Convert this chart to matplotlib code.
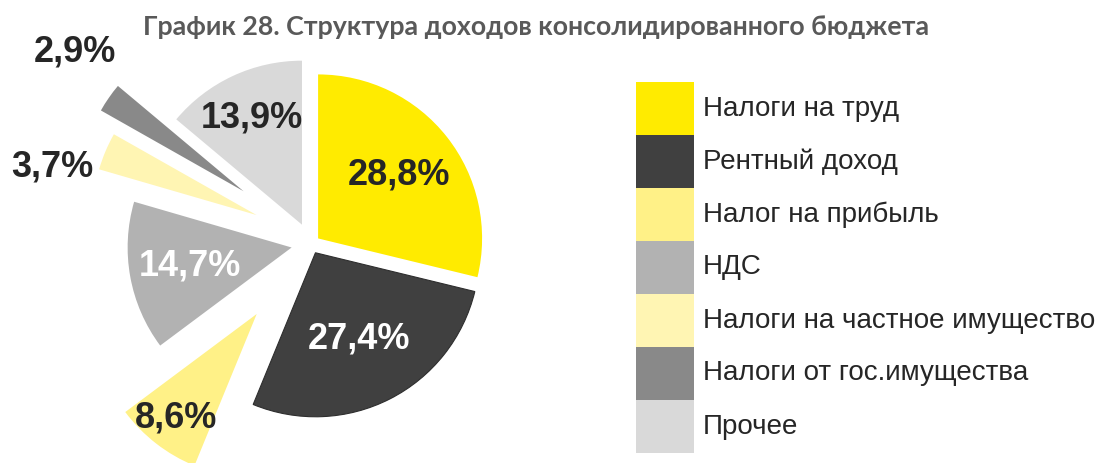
import numpy as np
import matplotlib
matplotlib.use("Agg")
import matplotlib.pyplot as plt
from matplotlib.patches import Rectangle

# Revenue structure of the consolidated budget, % of total
categories = [
    "Налоги на труд",
    "Рентный доход",
    "Налог на прибыль",
    "НДС",
    "Налоги на частное имущество",
    "Налоги от гос.имущества",
    "Прочее",
]
shares = [28.8, 27.4, 8.6, 14.7, 3.7, 2.9, 13.9]
colors = ["#FFEB00", "#404040", "#FFF187", "#B2B2B2", "#FFF5B3", "#898989", "#D9D9D9"]
title = "График 28. Структура доходов консолидированного бюджета"

W, H = 1097, 463
fig = plt.figure(figsize=(W / 100, H / 100), dpi=100)
fig.patch.set_facecolor("white")

# Pie drawn in a pixel-scaled axes (y up)
ax = fig.add_axes([0, 0, 1, 1])
R = 164
center = (311, H - 244)
explode_frac = [0.055, 0.06, 0.54, 0.12, 0.36, 0.50, 0.13]
wedges, _ = ax.pie(
    shares,
    colors=colors,
    startangle=90,
    counterclock=False,
    radius=R,
    center=center,
    explode=[e * R for e in explode_frac],
    wedgeprops=dict(linewidth=0),
)
wedges[1].set_edgecolor("#2E2E2E")
wedges[1].set_linewidth(0.8)

# Value labels: radial distance (in radii) and angular nudge (deg) per slice
label_dist = [0.63, 0.59, 0.80, 0.63, 1.29, 1.36, 0.72]
label_turn = [0, 0, 0, 0, 8, -6, 0]
label_color = ["#262626", "white", "#262626", "white", "#262626", "#262626", "#262626"]
for w, v, d, t, c in zip(wedges, shares, label_dist, label_turn, label_color):
    mid = np.deg2rad((w.theta1 + w.theta2) / 2 + t)
    cx, cy = w.center
    ax.text(cx + d * R * np.cos(mid), cy + d * R * np.sin(mid),
            f"{v:.1f}%".replace(".", ","),
            ha="center", va="center", fontsize=26, fontweight="bold",
            family=["Liberation Sans", "DejaVu Sans"], color=c)

# lift the two thin slivers slightly
for i in (4, 5):
    cx, cy = wedges[i].center
    wedges[i].set_center((cx, cy + 6))

ax.set_xlim(0, W)
ax.set_ylim(0, H)
ax.set_aspect("equal")
ax.axis("off")

# Title
fig.text(536 / W, 1 - 27 / H, title, ha="center", va="center",
         fontsize=19.3, fontweight="bold", family=["Lato", "DejaVu Sans"],
         color="#595959")

# Legend: stacked colour blocks with labels
box_x, box_w = 636, 58
top, row_h = 82, 53
for i, (name, col) in enumerate(zip(categories, colors)):
    y0 = H - (top + (i + 1) * row_h)
    ax.add_patch(Rectangle((box_x, y0), box_w, row_h, facecolor=col,
                           edgecolor="none", clip_on=False))
    ax.text(703, y0 + row_h / 2, name, ha="left", va="center", fontsize=20,
            family=["Liberation Sans", "DejaVu Sans"], color="#262626")

fig.savefig("out.png", dpi=100, facecolor="white")
